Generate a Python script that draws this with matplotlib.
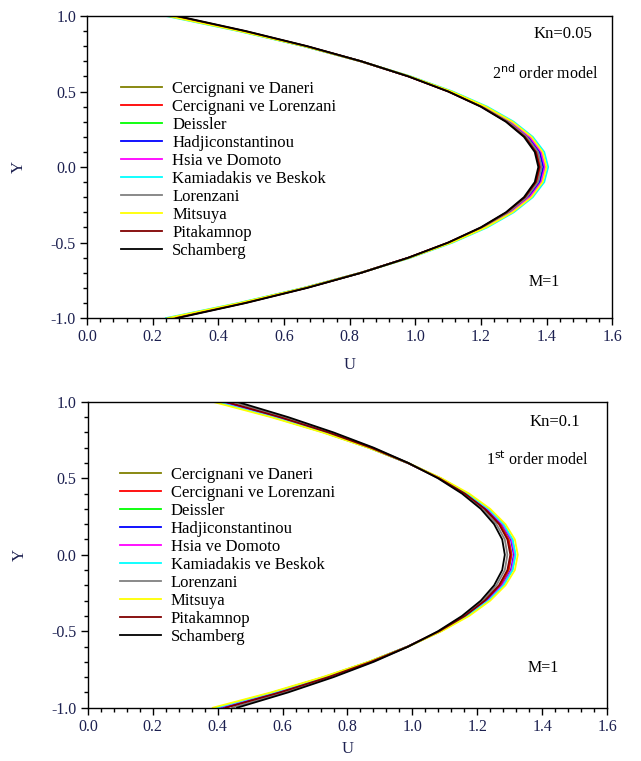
## velocity profiles for the slip models
import numpy as np
import matplotlib.pyplot as plt
from matplotlib.ticker import MultipleLocator

plt.rcParams['font.family'] = ['Liberation Serif', 'DejaVu Serif']

models = ['Cercignani ve Daneri', 'Cercignani ve Lorenzani', 'Deissler', 'Hadjiconstantinou',
          'Hsia ve Domoto', 'Kamiadakis ve Beskok', 'Lorenzani', 'Mitsuya', 'Pitakamnop', 'Schamberg']
colors = ['#808000', '#ff0000', '#00ff00', '#0000ff', '#ff00ff', '#00ffff',
          '#808080', '#ffff00', '#800000', '#000000']

# Y positions, wall to wall
Y = [1.0, 0.9, 0.8, 0.7, 0.6, 0.5, 0.4, 0.3, 0.2, 0.1, 0.0,
     -0.1, -0.2, -0.3, -0.4, -0.5, -0.6, -0.7, -0.8, -0.9, -1.0]

# Kn=0.05, 2nd order model (U from Y=1 to Y=0, profile symmetric)
u_top_half = {
    'Cercignani ve Daneri':    [0.265, 0.477, 0.667, 0.835, 0.981, 1.104, 1.204, 1.282, 1.338, 1.372, 1.383],
    'Cercignani ve Lorenzani': [0.265, 0.477, 0.666, 0.834, 0.979, 1.101, 1.202, 1.280, 1.335, 1.369, 1.380],
    'Deissler':                [0.250, 0.467, 0.661, 0.833, 0.982, 1.108, 1.211, 1.291, 1.348, 1.382, 1.394],
    'Hadjiconstantinou':       [0.255, 0.471, 0.664, 0.834, 0.981, 1.106, 1.208, 1.288, 1.345, 1.379, 1.390],
    'Hsia ve Domoto':          [0.250, 0.468, 0.662, 0.834, 0.983, 1.109, 1.212, 1.292, 1.349, 1.384, 1.395],
    'Kamiadakis ve Beskok':    [0.240, 0.461, 0.659, 0.834, 0.986, 1.114, 1.219, 1.300, 1.358, 1.393, 1.405],
    'Lorenzani':               [0.260, 0.474, 0.665, 0.834, 0.980, 1.104, 1.205, 1.284, 1.340, 1.374, 1.385],
    'Mitsuya':                 [0.245, 0.464, 0.661, 0.834, 0.984, 1.111, 1.215, 1.296, 1.354, 1.388, 1.400],
    'Pitakamnop':              [0.270, 0.481, 0.669, 0.835, 0.979, 1.101, 1.201, 1.278, 1.334, 1.367, 1.378],
    'Schamberg':               [0.275, 0.484, 0.671, 0.836, 0.979, 1.100, 1.199, 1.276, 1.331, 1.364, 1.375],
}

# Kn=0.1, 1st order model
u_bot_half = {
    'Cercignani ve Daneri':    [0.420, 0.588, 0.739, 0.872, 0.987, 1.085, 1.164, 1.226, 1.271, 1.297, 1.306],
    'Cercignani ve Lorenzani': [0.420, 0.588, 0.739, 0.871, 0.986, 1.084, 1.163, 1.225, 1.270, 1.296, 1.305],
    'Deissler':                [0.397, 0.572, 0.728, 0.866, 0.986, 1.087, 1.170, 1.234, 1.280, 1.308, 1.317],
    'Hadjiconstantinou':       [0.405, 0.578, 0.732, 0.868, 0.986, 1.086, 1.168, 1.231, 1.277, 1.304, 1.313],
    'Hsia ve Domoto':          [0.400, 0.574, 0.729, 0.867, 0.986, 1.086, 1.169, 1.233, 1.278, 1.306, 1.315],
    'Kamiadakis ve Beskok':    [0.395, 0.570, 0.727, 0.866, 0.986, 1.087, 1.170, 1.235, 1.281, 1.309, 1.318],
    'Lorenzani':               [0.445, 0.606, 0.750, 0.877, 0.988, 1.081, 1.157, 1.217, 1.259, 1.285, 1.293],
    'Mitsuya':                 [0.385, 0.564, 0.723, 0.864, 0.987, 1.090, 1.175, 1.240, 1.287, 1.316, 1.325],
    'Pitakamnop':              [0.425, 0.592, 0.741, 0.872, 0.986, 1.083, 1.162, 1.223, 1.267, 1.293, 1.302],
    'Schamberg':               [0.460, 0.617, 0.757, 0.881, 0.988, 1.079, 1.153, 1.211, 1.252, 1.277, 1.285],
}

tick_col = '#1c2050'


def full_profile(half):
    return half + half[-2::-1]


def panel(ax, data, kn_text, order_main, order_sup, leg_anchor, txt_pos, xlab_y):
    for name, col in zip(models, colors):
        ax.plot(full_profile(data[name]), Y, color=col, lw=1.3, label=name)
    ax.set_xlim(0, 1.6)
    ax.set_ylim(-1, 1)
    ax.xaxis.set_major_locator(MultipleLocator(0.2))
    ax.xaxis.set_minor_locator(MultipleLocator(0.04))
    ax.yaxis.set_major_locator(MultipleLocator(0.5))
    ax.yaxis.set_minor_locator(MultipleLocator(0.1))
    ax.xaxis.set_major_formatter(plt.FormatStrFormatter('%.1f'))
    ax.yaxis.set_major_formatter(plt.FormatStrFormatter('%.1f'))
    ax.tick_params(which='major', direction='out', length=5, width=1, labelsize=11.5,
                   labelcolor=tick_col, pad=3)
    ax.tick_params(which='minor', direction='out', length=3, width=1)
    for s in ax.spines.values():
        s.set_linewidth(1.0)
    ax.set_xlabel('U', fontsize=12, color=tick_col)
    ax.set_ylabel('Y', fontsize=12, color=tick_col)
    ax.xaxis.set_label_coords(0.5, xlab_y)
    ax.yaxis.set_label_coords(-0.115, 0.5)
    ax.text(txt_pos[0][0], txt_pos[0][1], kn_text, transform=ax.transAxes,
            ha='right', va='center', fontsize=12)
    ax.text(txt_pos[1][0], txt_pos[1][1],
            order_main + r'$^{\mathrm{' + order_sup + '}}$' + ' order model',
            transform=ax.transAxes, ha='right', va='center', fontsize=11.5)
    ax.text(txt_pos[2][0], txt_pos[2][1], 'M=1', transform=ax.transAxes,
            ha='right', va='center', fontsize=11.5)
    ax.legend(loc='upper left', bbox_to_anchor=leg_anchor, frameon=False, fontsize=12,
              handlelength=2.45, handletextpad=0.6, labelspacing=0.12,
              borderpad=0, borderaxespad=0)


fig = plt.figure(figsize=(6.41, 7.61), dpi=100)
ax1 = fig.add_axes([0.136, 0.582, 0.819, 0.397])
ax2 = fig.add_axes([0.137, 0.070, 0.810, 0.402])

panel(ax1, u_top_half, 'Kn=0.05', '2', 'nd', (0.065, 0.784),
      ((0.962, 0.94), (0.973, 0.81), (0.9, 0.12)), -0.13)
panel(ax2, u_bot_half, 'Kn=0.1', '1', 'st', (0.062, 0.786),
      ((0.948, 0.934), (0.963, 0.81), (0.908, 0.13)), -0.109)

fig.savefig('out.png', dpi=100)
